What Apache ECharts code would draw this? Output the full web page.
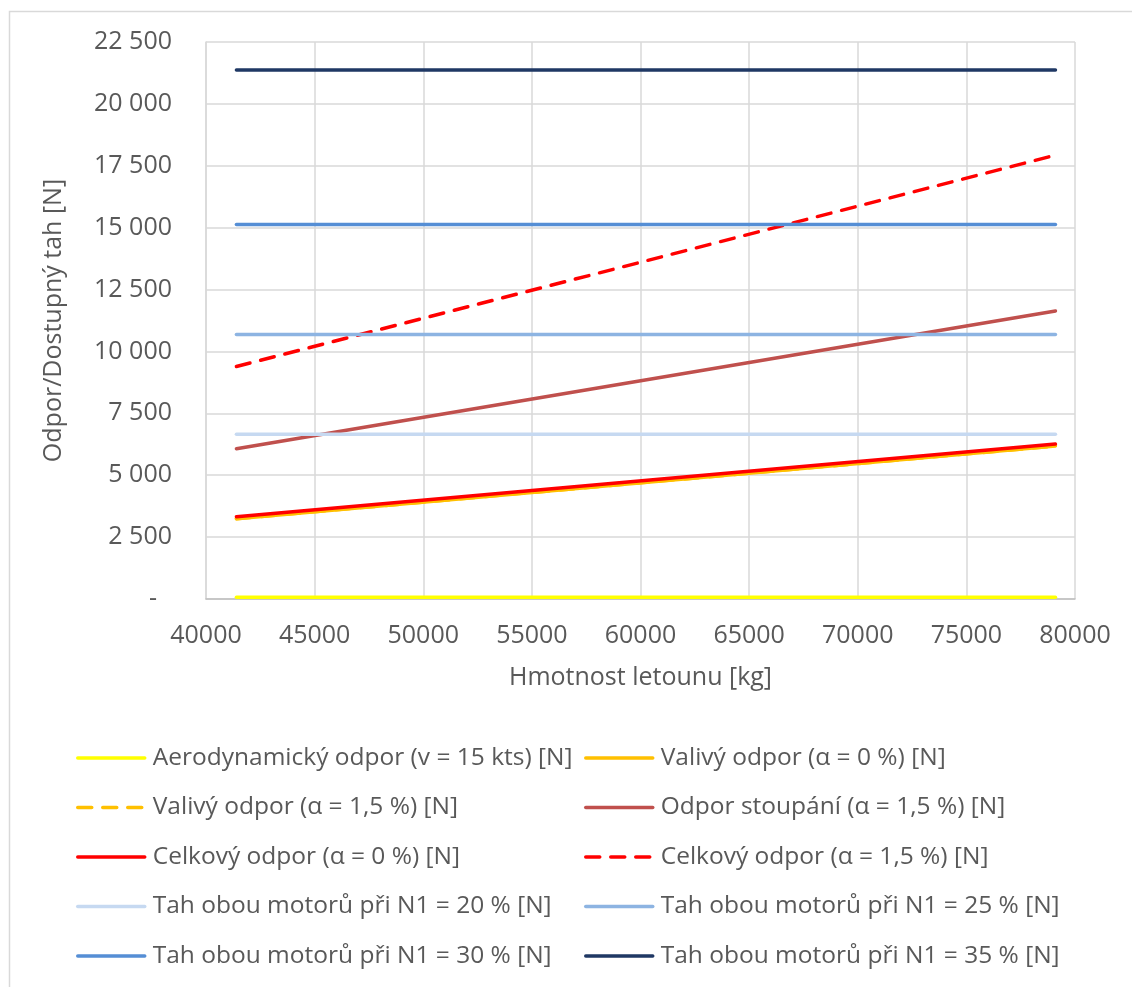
<!DOCTYPE html>
<html>
<head>
<meta charset="utf-8">
<script src="https://cdn.jsdelivr.net/npm/echarts@6/dist/echarts.min.js"></script>
<style>
html,body{margin:0;padding:0;background:#fff;}
#chart{width:1132px;height:987px;}
</style>
</head>
<body>
<div id="chart"></div>
<script>
// ---- data ----
const weights   = [41400, 79100];           // Hmotnost letounu [kg]
const aero      = [70, 70];                 // Aerodynamický odpor (v = 15 kts)
const valivy0   = [3245, 6180];             // Valivý odpor (α = 0 %)
const valivy15  = [3245, 6180];             // Valivý odpor (α = 1,5 %)
const stoupani  = [6070, 11630];            // Odpor stoupání (α = 1,5 %)
const celkovy0  = [3325, 6260];             // Celkový odpor (α = 0 %)
const celkovy15 = [9390, 17930];            // Celkový odpor (α = 1,5 %)
const tah20     = [6660, 6660];
const tah25     = [10680, 10680];
const tah30     = [15130, 15130];
const tah35     = [21370, 21370];

const seriesNames = [
  'Aerodynamický odpor (v = 15 kts) [N]',
  'Valivý odpor (α = 0 %) [N]',
  'Valivý odpor (α = 1,5 %) [N]',
  'Odpor stoupání (α = 1,5 %) [N]',
  'Celkový odpor (α = 0 %) [N]',
  'Celkový odpor (α = 1,5 %) [N]',
  'Tah obou motorů při N1 = 20 % [N]',
  'Tah obou motorů při N1 = 25 % [N]',
  'Tah obou motorů při N1 = 30 % [N]',
  'Tah obou motorů při N1 = 35 % [N]'
];
const seriesValues = [aero, valivy0, valivy15, stoupani, celkovy0, celkovy15, tah20, tah25, tah30, tah35];
const seriesColors = ['#FFFF00', '#FFC000', '#FFC000', '#C0504D', '#FF0000', '#FF0000', '#C6D9F1', '#8DB4E2', '#558ED5', '#1F3864'];
const seriesDashed = [false, false, true, false, false, true, false, false, false, false];

const xTitle = 'Hmotnost letounu [kg]';
const yTitle = 'Odpor/Dostupný tah [N]';

const FONT = 'Open Sans';
const TXT = '#595959';

function fmtY(v) {
  if (v === 0) return '{d|-}';
  return String(v).replace(/\B(?=(\d{3})+(?!\d))/g, ' ');
}
function fmtX(v) { return String(v); }

const series = seriesNames.map((name, i) => ({
  name: name,
  type: 'line',
  data: weights.map((w, k) => [w, seriesValues[i][k]]),
  symbol: 'none',
  lineStyle: {
    color: seriesColors[i],
    width: 3.5,
    type: seriesDashed[i] ? [14, 11] : 'solid',
    cap: 'round'
  },
  itemStyle: { color: seriesColors[i] },
  silent: true,
  animation: false
}));

const legendCommon = {
  orient: 'vertical',
  top: 743,
  padding: 0,
  itemWidth: 67,
  itemHeight: 14,
  itemGap: 19.5,
  selectedMode: false,
  itemStyle: { opacity: 0 },
  lineStyle: { width: 3.5, cap: 'round' },
  textStyle: { fontFamily: FONT, fontSize: 24.5, color: TXT, lineHeight: 30, padding: [0, 0, 0, 3] }
};

const chart = echarts.init(document.getElementById('chart'), null, { renderer: 'canvas' });
chart.setOption({
  animation: false,
  backgroundColor: '#ffffff',
  grid: { left: 206, right: 57, top: 42, bottom: 388, containLabel: false },
  xAxis: {
    type: 'value',
    min: 40000, max: 80000, interval: 5000,
    name: xTitle,
    nameLocation: 'middle',
    nameGap: 66,
    nameTextStyle: { fontFamily: FONT, fontSize: 25, color: TXT },
    axisLine: { show: true, lineStyle: { color: '#BFBFBF', width: 1.5 } },
    axisTick: { show: false },
    axisLabel: { fontFamily: FONT, fontSize: 25, color: TXT, margin: 24, formatter: fmtX },
    splitLine: { show: true, lineStyle: { color: '#D9D9D9', width: 1.5 } }
  },
  yAxis: {
    type: 'value',
    min: 0, max: 22500, interval: 2500,
    name: yTitle,
    nameLocation: 'middle',
    nameGap: 140,
    nameTextStyle: { fontFamily: FONT, fontSize: 25, color: TXT },
    axisLine: { show: true, lineStyle: { color: '#D9D9D9', width: 1.5 } },
    axisTick: { show: false },
    axisLabel: {
      fontFamily: FONT, fontSize: 25, color: TXT, margin: 34,
      formatter: fmtY,
      rich: { d: { fontFamily: FONT, fontSize: 25, color: TXT, padding: [0, 15, 0, 0] } }
    },
    splitLine: { show: true, lineStyle: { color: '#D9D9D9', width: 1.5 } }
  },
  legend: [
    Object.assign({}, legendCommon, { left: 76, data: seriesNames.filter((_, i) => i % 2 === 0) }),
    Object.assign({}, legendCommon, { left: 584, data: seriesNames.filter((_, i) => i % 2 === 1) })
  ],
  graphic: [
    { type: 'rect', left: 7, top: 9, shape: { width: 2000, height: 2000 }, style: { fill: 'none', stroke: '#D9D9D9', lineWidth: 1.5 }, silent: true }
  ],
  series: series
});
</script>
</body>
</html>
